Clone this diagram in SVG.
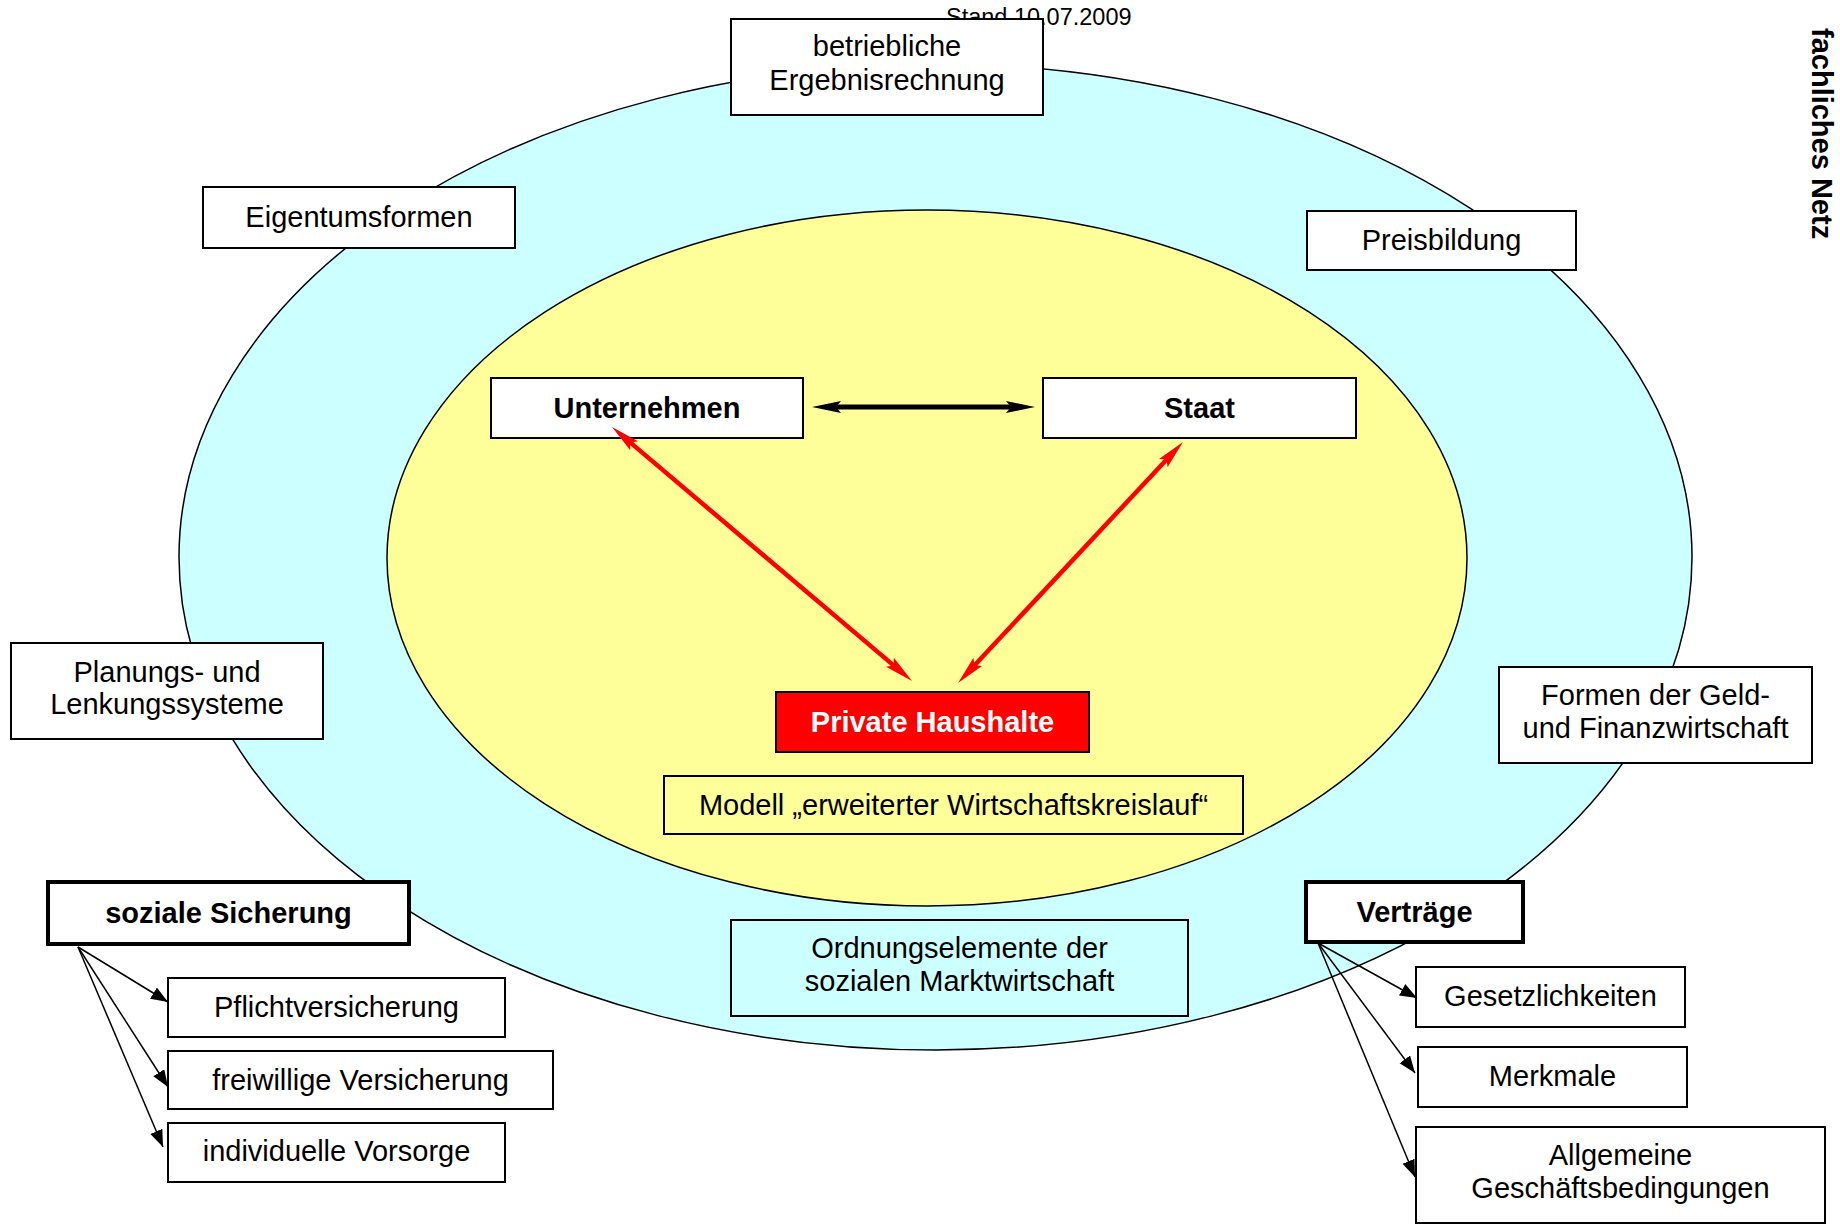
<svg xmlns="http://www.w3.org/2000/svg" width="1840" height="1225" viewBox="0 0 1840 1225">
<style>
  text { font-family: "Liberation Sans", Arial, sans-serif; font-size: 29px; fill: #000; text-anchor: middle; }
  .b { font-weight: bold; }
  .box { fill: #fff; stroke: #000; stroke-width: 2; }
  .thick { fill: #fff; stroke: #000; stroke-width: 4; }
  .thin { stroke: #000; stroke-width: 1.5; fill: none; marker-end: url(#ah); }
  .red { stroke: #ff0000; stroke-width: 4.5; fill: none; marker-start: url(#rh); marker-end: url(#rh); }
  .blk { stroke: #000; stroke-width: 5; fill: none; marker-start: url(#bh); marker-end: url(#bh); }
</style>
<defs>
  <marker id="ah" markerUnits="userSpaceOnUse" markerWidth="18" markerHeight="14" refX="17" refY="6.5" orient="auto">
    <path d="M0,0 L17,6.5 L0,13 z" fill="#000"/>
  </marker>
  <marker id="rh" markerUnits="userSpaceOnUse" markerWidth="30" markerHeight="14" refX="16" refY="6.5" orient="auto-start-reverse">
    <path d="M0,0.5 L29,6.5 L0,12.5 L5,6.5 z" fill="#ff0000"/>
  </marker>
  <marker id="bh" markerUnits="userSpaceOnUse" markerWidth="30" markerHeight="14" refX="16" refY="6.5" orient="auto-start-reverse">
    <path d="M0,0.5 L29,6.5 L0,12.5 L5,6.5 z" fill="#000"/>
  </marker>
</defs>
<rect width="1840" height="1225" fill="#fff"/>

<text x="946" y="25" style="font-size:23.5px;text-anchor:start">Stand 10.07.2009</text>
<text class="b" transform="translate(1812,28) rotate(90)" style="text-anchor:start;font-size:29px">fachliches Netz</text>

<g id="outer-ring">
  <ellipse cx="935.5" cy="557" rx="756.5" ry="493" fill="#ccffff" stroke="#000" stroke-width="1.5"/>
</g>
<g id="inner-ring">
  <ellipse cx="927" cy="558" rx="540" ry="348" fill="#ffff99" stroke="#000" stroke-width="1.5"/>
</g>

<g id="betriebliche">
  <rect class="box" x="731" y="19" width="312" height="96"/>
  <text x="887" y="56">betriebliche</text>
  <text x="887" y="90">Ergebnisrechnung</text>
</g>
<g id="eigentumsformen">
  <rect class="box" x="203" y="187" width="312" height="61"/>
  <text x="359" y="227">Eigentumsformen</text>
</g>
<g id="preisbildung">
  <rect class="box" x="1307" y="211" width="269" height="59"/>
  <text x="1441.5" y="250">Preisbildung</text>
</g>
<g id="unternehmen">
  <rect class="box" x="491" y="378" width="312" height="60"/>
  <text class="b" x="647" y="418">Unternehmen</text>
</g>
<g id="staat">
  <rect class="box" x="1043" y="378" width="313" height="60"/>
  <text class="b" x="1199.5" y="418">Staat</text>
</g>
<g id="private-haushalte">
  <rect x="776" y="692" width="313" height="60" fill="#ff0000" stroke="#000" stroke-width="2"/>
  <text class="b" x="932.5" y="732" style="fill:#fff">Private Haushalte</text>
</g>
<g id="modell">
  <rect x="664" y="776" width="579" height="58" fill="#ffff99" stroke="#000" stroke-width="2"/>
  <text x="953.5" y="815">Modell „erweiterter Wirtschaftskreislauf“</text>
</g>
<g id="planung">
  <rect class="box" x="11" y="643" width="312" height="96"/>
  <text x="167" y="682">Planungs- und</text>
  <text x="167" y="714">Lenkungssysteme</text>
</g>
<g id="geld">
  <rect class="box" x="1499" y="667" width="313" height="96"/>
  <text x="1655.5" y="705">Formen der Geld-</text>
  <text x="1655.5" y="738">und Finanzwirtschaft</text>
</g>
<g id="ordnung">
  <rect x="731" y="920" width="457" height="96" fill="#ccffff" stroke="#000" stroke-width="2"/>
  <text x="959.5" y="958">Ordnungselemente der</text>
  <text x="959.5" y="991">sozialen Marktwirtschaft</text>
</g>
<g id="soziale-sicherung">
  <rect class="thick" x="48" y="882" width="361" height="62"/>
  <text class="b" x="228.5" y="923">soziale Sicherung</text>
</g>
<g id="pflicht">
  <rect class="box" x="168" y="978" width="337" height="59"/>
  <text x="336.5" y="1017">Pflichtversicherung</text>
</g>
<g id="freiwillig">
  <rect class="box" x="168" y="1051" width="385" height="58"/>
  <text x="360.5" y="1090">freiwillige Versicherung</text>
</g>
<g id="individuell">
  <rect class="box" x="168" y="1123" width="337" height="59"/>
  <text x="336.5" y="1161">individuelle Vorsorge</text>
</g>
<g id="vertraege">
  <rect class="thick" x="1306" y="882" width="217" height="60"/>
  <text class="b" x="1414.5" y="922">Verträge</text>
</g>
<g id="gesetz">
  <rect class="box" x="1416" y="967" width="269" height="60"/>
  <text x="1550.5" y="1006">Gesetzlichkeiten</text>
</g>
<g id="merkmale">
  <rect class="box" x="1418" y="1047" width="269" height="60"/>
  <text x="1552.5" y="1086">Merkmale</text>
</g>
<g id="agb">
  <rect class="box" x="1416" y="1127" width="409" height="96"/>
  <text x="1620.5" y="1165">Allgemeine</text>
  <text x="1620.5" y="1198">Geschäftsbedingungen</text>
</g>

<g id="connectors">
  <line class="blk" x1="825" y1="407" x2="1022" y2="407"/>
  <line class="red" x1="621.9" y1="435.4" x2="902.1" y2="672.6"/>
  <line class="red" x1="1174.1" y1="451.5" x2="966.9" y2="673.5"/>
  <line class="thin" x1="78" y1="947" x2="168" y2="1002"/>
  <line class="thin" x1="78" y1="947" x2="168" y2="1087"/>
  <line class="thin" x1="78" y1="947" x2="163" y2="1147"/>
  <line class="thin" x1="1318" y1="943" x2="1417" y2="998"/>
  <line class="thin" x1="1318" y1="943" x2="1415" y2="1073"/>
  <line class="thin" x1="1318" y1="943" x2="1415" y2="1177"/>
</g>
</svg>
